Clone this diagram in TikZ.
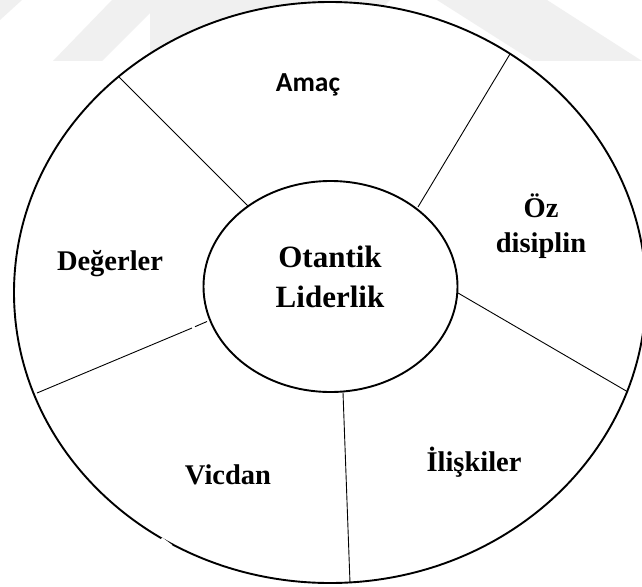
\documentclass[tikz,border=0pt]{standalone}
\usepackage{fontspec}
\setmainfont{Liberation Serif}
\newfontfamily\labelsans{Carlito}
\usetikzlibrary{shapes.geometric}

\definecolor{faintmark}{gray}{0.94}

\tikzset{
  ring/.style={ellipse, draw=black, line width=1.9pt, fill=white, inner sep=0pt},
  spoke/.style={draw=black, line width=0.9pt},
  seglabel/.style={font=\bfseries\fontsize{28.5}{32}\selectfont, align=center, anchor=base, inner sep=0pt},
  corelabel/.style={font=\bfseries\fontsize{31}{40}\selectfont, anchor=base, inner sep=0pt}
}

\begin{document}
\begin{tikzpicture}[x=1pt, y=-1pt]
  % canvas
  \fill[white] (0,0) rectangle (642,586);
  \useasboundingbox (0,0) rectangle (642,586);

  % faint background bands along the top edge
  \fill[faintmark] (53,61) -- (102,61) -- (163,0) -- (112,0) -- cycle;
  \fill[faintmark] (150,0) -- (390,0) -- (330,61) -- (150,61) -- cycle;
  \fill[faintmark] (437,0) -- (547,0) -- (642,61) -- (533,61) -- cycle;
  \fill[faintmark] (0,0) -- (22,0) -- (0,20) -- cycle;

  % outer and inner rings
  \node[ring, minimum width=632pt, minimum height=581pt] (outer) at (330,292.5) {};
  \node[ring, minimum width=254pt, minimum height=211pt] (core) at (330.5,286.5) {};

  % small break in the outer ring (lower left)
  \draw[white, line width=4pt] (161,539) -- (171,546.5);

  % spoke end points
  \coordinate (ulIn)  at (248,206);
  \coordinate (ulOut) at (119,77);
  \coordinate (urIn)  at (418,207);
  \coordinate (urOut) at (510,54);
  \coordinate (rIn)   at (458,293);
  \coordinate (rOut)  at (628,392);
  \coordinate (bIn)   at (343,392.5);
  \coordinate (bOut)  at (350,583);
  \coordinate (lOut)  at (37,393);
  \coordinate (lMid)  at (192,328);
  \coordinate (lGap)  at (195,326.7);
  \coordinate (lIn)   at (207,321.5);

  % spokes
  \draw[spoke] (ulIn) -- (ulOut);
  \draw[spoke] (urIn) -- (urOut);
  \draw[spoke] (rIn) -- (rOut);
  \draw[spoke] (bIn) -- (bOut);
  \draw[spoke] (lOut) -- (lMid);
  \draw[spoke] (lGap) -- (lIn);

  % labels
  \node[seglabel, font=\labelsans\bfseries\fontsize{27.5}{32}\selectfont] (amac) at (308,91) {Amaç};
  \node[corelabel] (otantik) at (330,267) {Otantik};
  \node[corelabel] (liderlik) at (330,307) {Liderlik};
  \node[seglabel] (degerler) at (110,270) {Değerler};
  \node[seglabel] (oz) at (541,217) {Öz};
  \node[seglabel] (disiplin) at (541,252) {disiplin};
  \node[seglabel] (vicdan) at (228,484) {Vicdan};
  \node[seglabel] (iliskiler) at (474,471) {İlişkiler};
\end{tikzpicture}
\end{document}
